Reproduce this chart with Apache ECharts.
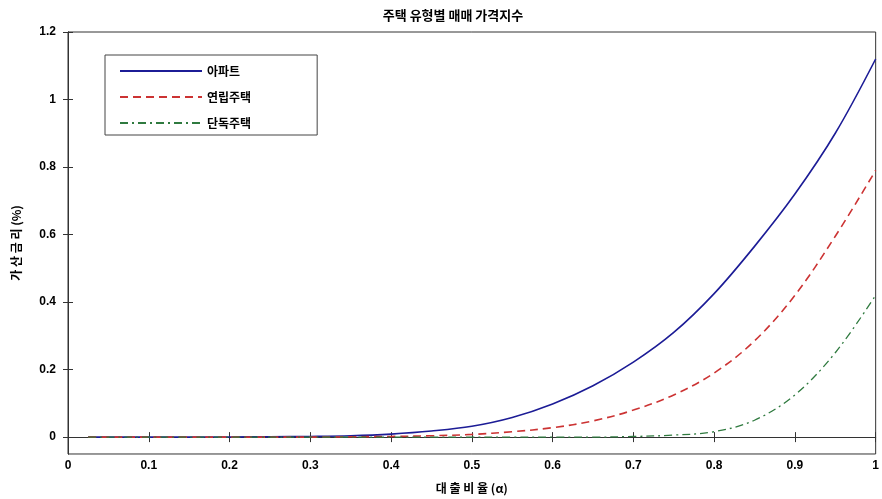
<!DOCTYPE html>
<html>
<head>
<meta charset="utf-8">
<script src="https://cdn.jsdelivr.net/npm/echarts@6/dist/echarts.min.js"></script>
<style>
  html, body { margin: 0; padding: 0; background: #fff; }
  #chart { width: 882px; height: 499px; }
</style>
</head>
<body>
<div id="chart"></div>
<script>
// 대출 비율 (α)
const loanRatio = [0.025, 0.05, 0.1, 0.15, 0.2, 0.25, 0.3, 0.35, 0.4, 0.45, 0.5,
                   0.55, 0.6, 0.65, 0.7, 0.75, 0.8, 0.85, 0.9, 0.95, 1.0];
// 가산금리 (%) by housing type
const apartment = [0, 0, 0, 0, 0.0003, 0.001, 0.002, 0.004, 0.009, 0.018, 0.032,
                   0.058, 0.098, 0.152, 0.222, 0.31, 0.425, 0.565, 0.72, 0.9, 1.12];
const rowHouse  = [0, 0, 0, 0, 0, 0, 0, 0.001, 0.002, 0.004, 0.008,
                   0.016, 0.028, 0.048, 0.08, 0.125, 0.19, 0.285, 0.42, 0.595, 0.79];
const detached  = [0, 0, 0, 0, 0, 0, 0, 0, 0, 0, 0,
                   0, 0, 0, 0.002, 0.006, 0.016, 0.05, 0.125, 0.25, 0.42];
const seriesNames = ['아파트', '연립주택', '단독주택'];
const yTicks = [0, 0.2, 0.4, 0.6, 0.8, 1, 1.2];

const pair = (ys) => loanRatio.map((x, i) => [x, ys[i]]);

const tickFont = {
  color: '#000', fontSize: 12, fontWeight: 'bold',
  fontFamily: '"Liberation Sans Narrow", "Liberation Sans", Arial, sans-serif'
};
const krFont = '"Noto Sans CJK KR", "Noto Sans", sans-serif';
const axisLine = { show: true, lineStyle: { color: '#333', width: 1 } };

const chart = echarts.init(document.getElementById('chart'), null, { renderer: 'canvas' });

const lineSeries = (name, data, color, type, width) => ({
  name, type: 'line', data: pair(data), xAxisIndex: 0, yAxisIndex: 0,
  showSymbol: false, symbol: 'none', smooth: 0.35,
  lineStyle: { color, width, type }, itemStyle: { color },
  animation: false
});

chart.setOption({
  animation: false,
  backgroundColor: '#fff',
  title: {
    text: '주택 유형별 매매 가격지수',
    left: 448, top: 4, textAlign: 'center',
    textStyle: { fontSize: 13, fontWeight: 'bold', color: '#000', fontFamily: krFont }
  },
  grid: {
    left: 68, right: 3, top: 32, bottom: 42,
    show: true, borderColor: '#333', borderWidth: 1, backgroundColor: '#fff'
  },
  legend: {
    data: seriesNames,
    orient: 'vertical',
    left: 105, top: 55,
    itemWidth: 82, itemHeight: 10, itemGap: 14,
    padding: [10, 66, 6, 14],
    borderColor: '#444', borderWidth: 1,
    itemStyle: { color: 'transparent', borderColor: 'transparent', borderWidth: 0 },
    textStyle: { fontSize: 12, fontWeight: 'bold', color: '#000', fontFamily: krFont }
  },
  xAxis: [{
    type: 'value', min: 0, max: 1, interval: 0.1, position: 'bottom',
    name: '대 출 비 율 (α)', nameLocation: 'middle', nameGap: 28,
    nameTextStyle: { fontSize: 12, fontWeight: 'bold', color: '#000', fontFamily: krFont },
    axisLine, splitLine: { show: false },
    axisTick: { inside: true, length: 5, lineStyle: { color: '#333' } },
    axisLabel: Object.assign({ margin: 6 }, tickFont)
  }, {
    type: 'value', min: 0, max: 1, interval: 0.1, position: 'top',
    axisLine, splitLine: { show: false },
    axisTick: { inside: true, length: 5, lineStyle: { color: '#333' } },
    axisLabel: { show: false }
  }],
  yAxis: [{
    type: 'value', min: -0.05, max: 1.2, position: 'left',
    name: '가 산 금 리 (%)', nameLocation: 'middle', nameGap: 46, nameRotate: 90,
    nameTextStyle: { fontSize: 12, fontWeight: 'bold', color: '#000', fontFamily: krFont },
    axisLine, splitLine: { show: false },
    axisTick: { inside: true, length: 5, customValues: yTicks, lineStyle: { color: '#333' } },
    axisLabel: Object.assign({ margin: 12, customValues: yTicks }, tickFont)
  }, {
    type: 'value', min: -0.05, max: 1.2, position: 'right',
    axisLine, splitLine: { show: false },
    axisTick: { inside: true, length: 5, customValues: yTicks, lineStyle: { color: '#333' } },
    axisLabel: { show: false }
  }],
  series: [
    lineSeries(seriesNames[0], apartment, '#1c1c96', 'solid', 1.6),
    lineSeries(seriesNames[1], rowHouse, '#cc3333', [8, 5], 1.6),
    lineSeries(seriesNames[2], detached, '#2f7a3f', [8, 4, 2, 4], 1.3)
  ]
});
</script>
</body>
</html>
